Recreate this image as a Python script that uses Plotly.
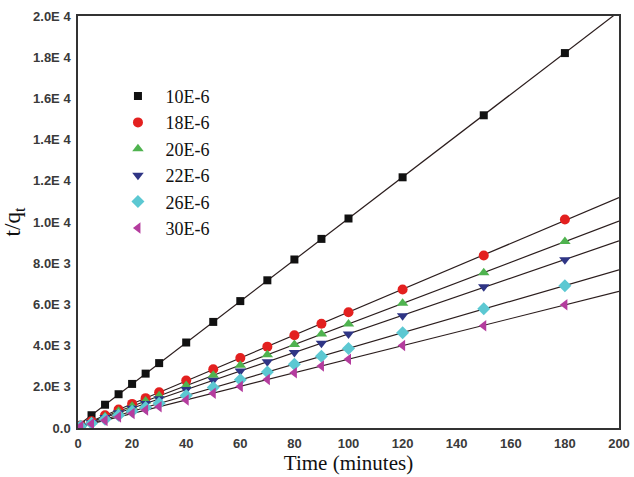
import numpy as np
import plotly.graph_objects as go

time_min = [1, 5, 10, 15, 20, 25, 30, 40, 50, 60, 70, 80, 90, 100, 120, 150, 180]

series_names = ["10E-6", "18E-6", "20E-6", "22E-6", "26E-6", "30E-6"]

s_10 = [150, 620, 1130, 1640, 2140, 2640, 3150, 4150, 5150, 6160, 7170, 8180, 9180, 10170, 12170, 15180, 18200]
s_18 = [120, 330, 620, 900, 1170, 1450, 1730, 2300, 2850, 3400, 3950, 4500, 5060, 5620, 6720, 8370, 10120]
s_20 = [110, 300, 560, 810, 1060, 1310, 1560, 2060, 2560, 3050, 3550, 4050, 4560, 5050, 6050, 7540, 9050]
s_22 = [100, 270, 510, 740, 960, 1190, 1420, 1870, 2320, 2770, 3220, 3670, 4110, 4560, 5450, 6860, 8170]
s_26 = [90, 230, 430, 620, 810, 1000, 1200, 1580, 1960, 2340, 2720, 3100, 3480, 3860, 4620, 5790, 6910]
s_30 = [80, 200, 370, 540, 700, 870, 1030, 1360, 1690, 2020, 2350, 2680, 3010, 3340, 4000, 4960, 5985]

all_series = [s_10, s_18, s_20, s_22, s_26, s_30]

colors = ["#111111", "#e3201f", "#4fb34f", "#2f3585", "#5cc8d2", "#b43c9e"]
symbols = ["square", "circle", "triangle-up", "triangle-down", "diamond", "triangle-left"]
sizes = [8, 10, 10, 10, 10, 10]

y_tickvals = [0, 2000, 4000, 6000, 8000, 10000, 12000, 14000, 16000, 18000, 20000]
y_ticktext = ["0.0", "2.0E 3", "4.0E 3", "6.0E 3", "8.0E 3", "1.0E 4",
              "1.2E 4", "1.4E 4", "1.6E 4", "1.8E 4", "2.0E 4"]
x_tickvals = [0, 20, 40, 60, 80, 100, 120, 140, 160, 180, 200]

fig = go.Figure()

x_fit = np.array([0, 200])
for ys in all_series:
    m, b = np.polyfit(time_min, ys, 1)
    fig.add_trace(go.Scatter(x=x_fit, y=m * x_fit + b, mode="lines",
                             line=dict(color="#2b1d1d", width=1.2),
                             showlegend=False, hoverinfo="skip"))

for i, (name, ys) in enumerate(zip(series_names, all_series)):
    fig.add_trace(go.Scatter(x=time_min, y=ys, mode="markers", name=name,
                             legendgroup=name,
                             marker=dict(symbol=symbols[i], color=colors[i],
                                         size=sizes[i], line=dict(width=0))))

fig.update_layout(
    width=634, height=477,
    margin=dict(l=78, r=15, t=16, b=49),
    paper_bgcolor="white", plot_bgcolor="white",
    legend=dict(x=0.06, y=0.85, xanchor="left", yanchor="top",
                font=dict(family="Liberation Serif", size=18, color="#111"),
                bgcolor="rgba(0,0,0,0)", tracegroupgap=0, itemwidth=45),
    xaxis=dict(range=[0, 200], tickvals=x_tickvals, showgrid=False, zeroline=False,
               showline=True, linecolor="#333", linewidth=1.5, mirror=True,
               ticks="", ticklabelstandoff=3, automargin=False,
               tickfont=dict(family="Liberation Sans", size=13, color="#3a3a3a", weight="bold"),
               title=dict(text="Time (minutes)", standoff=2,
                          font=dict(family="Liberation Serif", size=21, color="#111"))),
    yaxis=dict(range=[0, 20000], tickvals=y_tickvals, ticktext=y_ticktext,
               showgrid=False, zeroline=False,
               showline=True, linecolor="#333", linewidth=1.5, mirror=True,
               ticks="", ticklabelstandoff=3, automargin=False,
               tickfont=dict(family="Liberation Sans", size=13, color="#3a3a3a", weight="bold"),
               title=dict(text="t/q<sub>t</sub>", standoff=10,
                          font=dict(family="Liberation Serif", size=23, color="#111"))),
)

fig.write_html("out.html")
